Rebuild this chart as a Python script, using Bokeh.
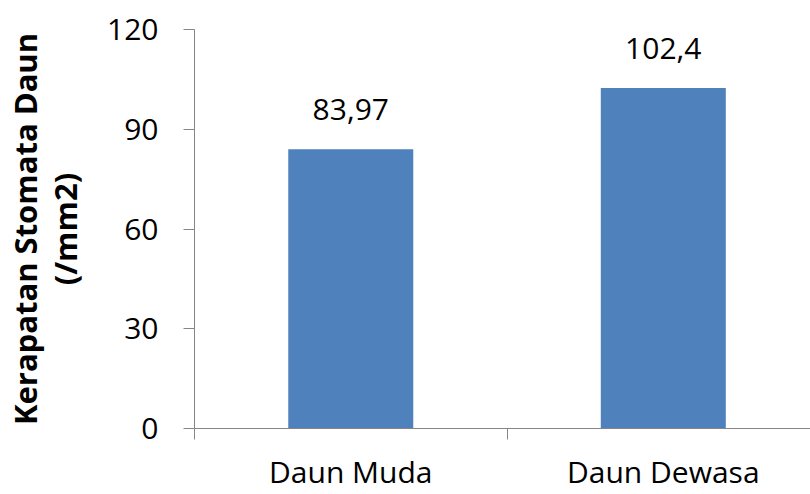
from bokeh.plotting import figure
from bokeh.models import Range1d, FixedTicker, LinearAxis
from bokeh.core.properties import value
from bokeh.embed import file_html
from bokeh.resources import INLINE

categories = ["Daun Muda", "Daun Dewasa"]
values = [83.97, 102.4]
y_ticks = [0, 30, 60, 90, 120]
y_title_1 = "Kerapatan Stomata Daun"
y_title_2 = "(/mm2)"

xs = [i + 0.5 for i in range(len(categories))]
bounds = list(range(len(categories) + 1))
labels = [f"{v:g}".replace(".", ",") for v in values]

FONT = "Open Sans"
AXIS_COLOR = "#868686"
BAR_COLOR = "#4F81BD"

p = figure(width=810, height=494, output_backend="svg", toolbar_location=None,
           x_range=Range1d(0, 1.971), y_range=Range1d(0, 120),
           min_border_left=193, min_border_top=29, min_border_bottom=64,
           min_border_right=0, outline_line_color=None,
           background_fill_color="white", border_fill_color="white")

p.vbar(x=xs, top=values, width=0.4, fill_color=BAR_COLOR, line_color=None)
p.text(x=xs, y=values, text=labels, text_align="center", text_baseline="alphabetic",
       y_offset=-40, text_font=value(FONT), text_font_size="30px", text_color="#000000")

p.xgrid.visible = False
p.ygrid.visible = False

xa = p.xaxis[0]
xa.ticker = FixedTicker(ticks=xs, minor_ticks=bounds)
xa.major_label_overrides = {x: c for x, c in zip(xs, categories)}
xa.major_tick_out = 0
xa.major_tick_in = 0
xa.minor_tick_out = 11
xa.minor_tick_in = 0
xa.minor_tick_line_color = AXIS_COLOR
xa.axis_line_color = AXIS_COLOR
xa.major_label_text_font = FONT
xa.major_label_text_font_size = "30px"
xa.major_label_text_color = "#000000"
xa.major_label_standoff = 11

ya = p.yaxis[0]
ya.ticker = FixedTicker(ticks=y_ticks, minor_ticks=[])
ya.major_tick_out = 11
ya.major_tick_in = 0
ya.major_tick_line_color = AXIS_COLOR
ya.axis_line_color = AXIS_COLOR
ya.major_label_text_font = FONT
ya.major_label_text_font_size = "30px"
ya.major_label_text_color = "#000000"
ya.major_label_standoff = 25
ya.axis_label = y_title_2
ya.axis_label_text_font = FONT
ya.axis_label_text_font_size = "31px"
ya.axis_label_text_font_style = "bold"
ya.axis_label_text_color = "#000000"
ya.axis_label_standoff = 18

ya2 = LinearAxis(ticker=FixedTicker(ticks=[]), axis_line_color=None,
                 major_tick_out=0, major_tick_in=0, minor_tick_out=0, minor_tick_in=0,
                 major_label_standoff=0, axis_label=y_title_1,
                 axis_label_text_font=FONT, axis_label_text_font_size="31px",
                 axis_label_text_font_style="bold", axis_label_text_color="#000000",
                 axis_label_standoff=-4)
p.add_layout(ya2, "left")

open("out.html", "w").write(file_html(p, INLINE))
